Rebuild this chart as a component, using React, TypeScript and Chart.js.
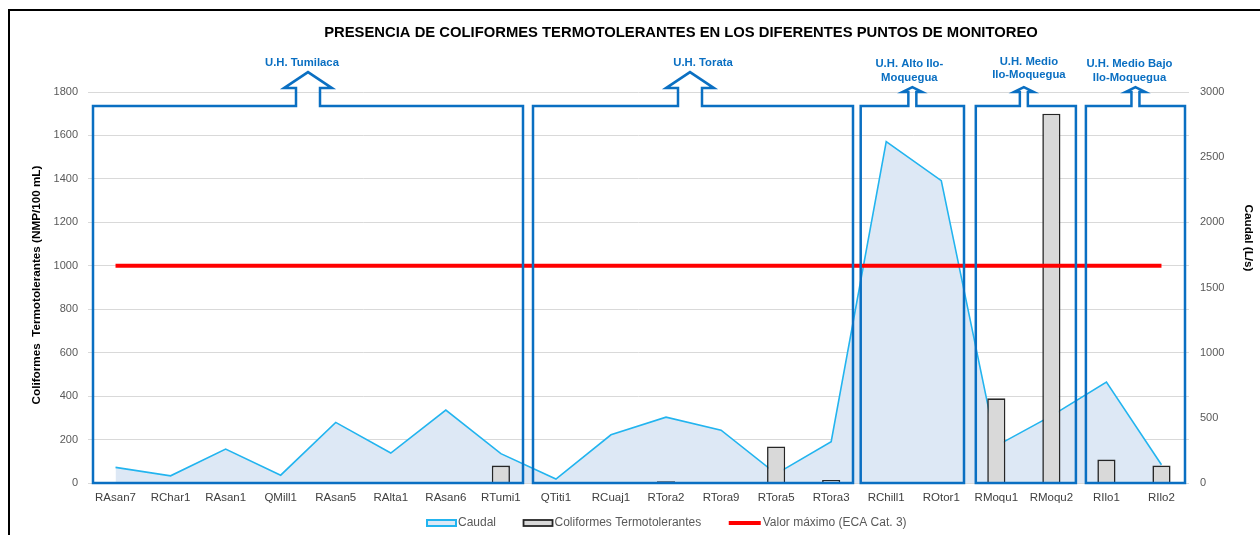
import { useEffect, useRef } from 'react';
import { Chart, registerables } from 'chart.js';

Chart.register(...registerables);

const TITLE = 'PRESENCIA DE COLIFORMES TERMOTOLERANTES EN LOS DIFERENTES PUNTOS DE MONITOREO';
const LEFT_TITLE = 'Coliformes  Termotolerantes (NMP/100 mL)';
const RIGHT_TITLE = 'Caudal (L/s)';

const categories = [
  'RAsan7', 'RChar1', 'RAsan1', 'QMill1', 'RAsan5', 'RAlta1', 'RAsan6', 'RTumi1',
  'QTiti1', 'RCuaj1', 'RTora2', 'RTora9', 'RTora5', 'RTora3',
  'RChill1', 'ROtor1', 'RMoqu1', 'RMoqu2', 'RIlo1', 'RIlo2',
];

// Caudal (L/s) - right axis
const caudal = [120, 55, 260, 60, 465, 230, 560, 225, 30, 370, 505, 405, 70, 317, 2620, 2320, 285, 515, 775, 140];

// Coliformes Termotolerantes (NMP/100 mL) - left axis
const coliformes = [null, null, null, null, null, null, null, 80, null, null, 8, 5, 168, 14, 4, 4, 390, 1700, 108, 80];

// Valor máximo ECA Cat. 3
const valorMaximo = [1000, 1000, 1000, 1000, 1000, 1000, 1000, 1000, 1000, 1000, 1000, 1000, 1000, 1000, 1000, 1000, 1000, 1000, 1000, 1000];

const legendLabels = ['Caudal', 'Coliformes Termotolerantes', 'Valor máximo (ECA Cat. 3)'];

// Hydrographic unit groups
const groupLabels = [
  ['U.H. Tumilaca'],
  ['U.H. Torata'],
  ['U.H. Alto Ilo-', 'Moquegua'],
  ['U.H. Medio', 'Ilo-Moquegua'],
  ['U.H. Medio Bajo', 'Ilo-Moquegua'],
];
const groupStart = [0, 8, 14, 16, 18];
const groupEnd = [7, 13, 15, 17, 19];

// styling of group annotations (not data)
const groupStyle = [
  { big: true, insetL: 5, insetR: 5.4, arrowDx: 0, labelDx: -6, labelY: [63] },
  { big: true, insetL: 4.6, insetR: 5.7, arrowDx: -3, labelDx: 10, labelY: [63] },
  { big: false, insetL: 2, insetR: 4.8, arrowDx: 0, labelDx: -3, labelY: [64, 77.5] },
  { big: false, insetL: 7, insetR: 3, arrowDx: -2, labelDx: 3, labelY: [61.7, 75] },
  { big: false, insetL: 7, insetR: 4, arrowDx: 0, labelDx: -6, labelY: [64, 77.5] },
];
const BOX_TOP_VALUE = 1735;

const FONT = '"Liberation Sans", Arial, Helvetica, sans-serif';
const BLUE = '#0a6fc2';
const LINE_COLOR = '#22b4ef';
const AREA_FILL = '#dde8f5';
const BAR_FILL = '#d9d9d9';
const BAR_BORDER = '#262626';
const RED = '#ff0000';

const decorPlugin = {
  id: 'decor',
  beforeDraw(chart: any) {
    const ctx = chart.ctx;
    ctx.save();
    ctx.fillStyle = '#ffffff';
    ctx.fillRect(0, 0, chart.width, chart.height);
    ctx.strokeStyle = '#000000';
    ctx.lineWidth = 2;
    ctx.beginPath();
    ctx.moveTo(9, chart.height + 5);
    ctx.lineTo(9, 10);
    ctx.lineTo(chart.width + 5, 10);
    ctx.stroke();

    ctx.fillStyle = '#000000';
    ctx.textAlign = 'center';
    ctx.textBaseline = 'middle';
    ctx.font = `bold 14.8px ${FONT}`;
    ctx.fillText(TITLE, 681, 33);

    ctx.font = `bold 11.7px ${FONT}`;
    ctx.save();
    ctx.translate(36.5, 285);
    ctx.rotate(-Math.PI / 2);
    ctx.fillText(LEFT_TITLE, 0, 0);
    ctx.restore();
    ctx.save();
    ctx.translate(1248.5, 238);
    ctx.rotate(Math.PI / 2);
    ctx.fillText(RIGHT_TITLE, 0, 0);
    ctx.restore();
    ctx.restore();
  },
  afterDatasetsDraw(chart: any) {
    const ctx = chart.ctx;
    const xs = chart.scales.x;
    const ys = chart.scales.y;
    const catW = xs.getPixelForValue(1) - xs.getPixelForValue(0);
    const top = ys.getPixelForValue(BOX_TOP_VALUE);
    const bottom = ys.getPixelForValue(0);
    ctx.save();
    ctx.strokeStyle = BLUE;
    ctx.lineWidth = 2.5;
    ctx.lineJoin = 'miter';
    for (let g = 0; g < groupLabels.length; g++) {
      const st = groupStyle[g];
      const x0 = xs.getPixelForValue(groupStart[g]) - catW / 2 + st.insetL;
      const x1 = xs.getPixelForValue(groupEnd[g]) + catW / 2 - st.insetR;
      const cx = (x0 + x1) / 2 + st.arrowDx;
      const sw = st.big ? 12 : 4;
      const hw = st.big ? 24 : 10;
      const headBase = st.big ? top - 18 : top - 14;
      const tip = st.big ? top - 34 : top - 19;
      ctx.beginPath();
      ctx.moveTo(x0, bottom);
      ctx.lineTo(x0, top);
      ctx.lineTo(cx - sw, top);
      ctx.lineTo(cx - sw, headBase);
      ctx.lineTo(cx - hw, headBase);
      ctx.lineTo(cx, tip);
      ctx.lineTo(cx + hw, headBase);
      ctx.lineTo(cx + sw, headBase);
      ctx.lineTo(cx + sw, top);
      ctx.lineTo(x1, top);
      ctx.lineTo(x1, bottom);
      ctx.closePath();
      ctx.stroke();

      ctx.fillStyle = BLUE;
      ctx.font = `bold 11.3px ${FONT}`;
      ctx.textAlign = 'center';
      ctx.textBaseline = 'middle';
      const lx = (x0 + x1) / 2 + st.labelDx;
      groupLabels[g].forEach((line, i) => {
        ctx.fillText(line, lx, st.labelY[i]);
      });
    }
    ctx.restore();
  },
  afterDraw(chart: any) {
    const ctx = chart.ctx;
    ctx.save();
    ctx.font = `12px ${FONT}`;
    ctx.textBaseline = 'middle';
    ctx.textAlign = 'left';
    const cy = 523;
    let x = 427;
    legendLabels.forEach((label, i) => {
      if (i === 0) {
        ctx.fillStyle = AREA_FILL;
        ctx.fillRect(x, cy - 3, 29, 6);
        ctx.strokeStyle = LINE_COLOR;
        ctx.lineWidth = 2;
        ctx.strokeRect(x, cy - 3, 29, 6);
      } else if (i === 1) {
        ctx.fillStyle = BAR_FILL;
        ctx.fillRect(x, cy - 3, 29, 6);
        ctx.strokeStyle = BAR_BORDER;
        ctx.lineWidth = 1.8;
        ctx.strokeRect(x, cy - 3, 29, 6);
      } else {
        ctx.strokeStyle = RED;
        ctx.lineWidth = 4;
        ctx.beginPath();
        ctx.moveTo(x, cy);
        ctx.lineTo(x + 32, cy);
        ctx.stroke();
        x += 3;
      }
      ctx.fillStyle = '#595959';
      ctx.fillText(label, x + 31, cy);
      x = x + 31 + ctx.measureText(label).width + 27.5;
    });
    ctx.restore();
  },
};

export default function App() {
  const ref = useRef<HTMLCanvasElement | null>(null);

  useEffect(() => {
    if (!ref.current) return;
    const chart = new Chart(ref.current, {
      type: 'bar',
      data: {
        labels: categories,
        datasets: [
          {
            type: 'line',
            label: legendLabels[0],
            data: caudal,
            yAxisID: 'y1',
            borderColor: LINE_COLOR,
            backgroundColor: AREA_FILL,
            borderWidth: 1.6,
            fill: 'origin',
            pointRadius: 0,
            tension: 0,
            order: 3,
          } as any,
          {
            type: 'bar',
            label: legendLabels[1],
            data: coliformes,
            yAxisID: 'y',
            backgroundColor: BAR_FILL,
            borderColor: BAR_BORDER,
            borderWidth: 1.6,
            barPercentage: 0.33,
            categoryPercentage: 1,
            order: 2,
          } as any,
          {
            type: 'line',
            label: legendLabels[2],
            data: valorMaximo,
            yAxisID: 'y',
            borderColor: RED,
            backgroundColor: RED,
            borderWidth: 4,
            pointRadius: 0,
            fill: false,
            order: 1,
          } as any,
        ],
      },
      options: {
        responsive: false,
        animation: false,
        events: [],
        layout: { padding: { top: 92, bottom: 28, left: 0, right: 0 } },
        plugins: {
          legend: { display: false },
          title: { display: false },
          tooltip: { enabled: false },
        },
        scales: {
          x: {
            offset: true,
            grid: { display: false, drawTicks: false },
            border: { display: false },
            ticks: {
              autoSkip: false,
              maxRotation: 0,
              padding: 8,
              color: '#404040',
              font: { family: FONT, size: 11.5 },
            },
            afterFit(scale: any) {
              scale.height = 24;
            },
          },
          y: {
            position: 'left',
            min: 0,
            max: 1800,
            ticks: {
              stepSize: 200,
              padding: 10,
              color: '#595959',
              font: { family: FONT, size: 11 },
              callback: (v: any) => String(v),
            },
            grid: { color: '#d9d9d9', lineWidth: 1, drawTicks: false },
            border: { display: false },
            afterFit(scale: any) {
              scale.width = 88;
            },
          },
          y1: {
            position: 'right',
            min: 0,
            max: 3000,
            ticks: {
              stepSize: 500,
              padding: 11,
              color: '#595959',
              font: { family: FONT, size: 11 },
              callback: (v: any) => String(v),
            },
            grid: { display: false, drawTicks: false },
            border: { display: false },
            afterFit(scale: any) {
              scale.width = 71;
            },
          },
        },
      },
      plugins: [decorPlugin],
    });
    return () => chart.destroy();
  }, []);

  return (
    <div style={{ position: 'absolute', left: 0, top: 0, width: 1260, height: 535 }}>
      <canvas ref={ref} width={1260} height={535} style={{ display: 'block' }} />
    </div>
  );
}
